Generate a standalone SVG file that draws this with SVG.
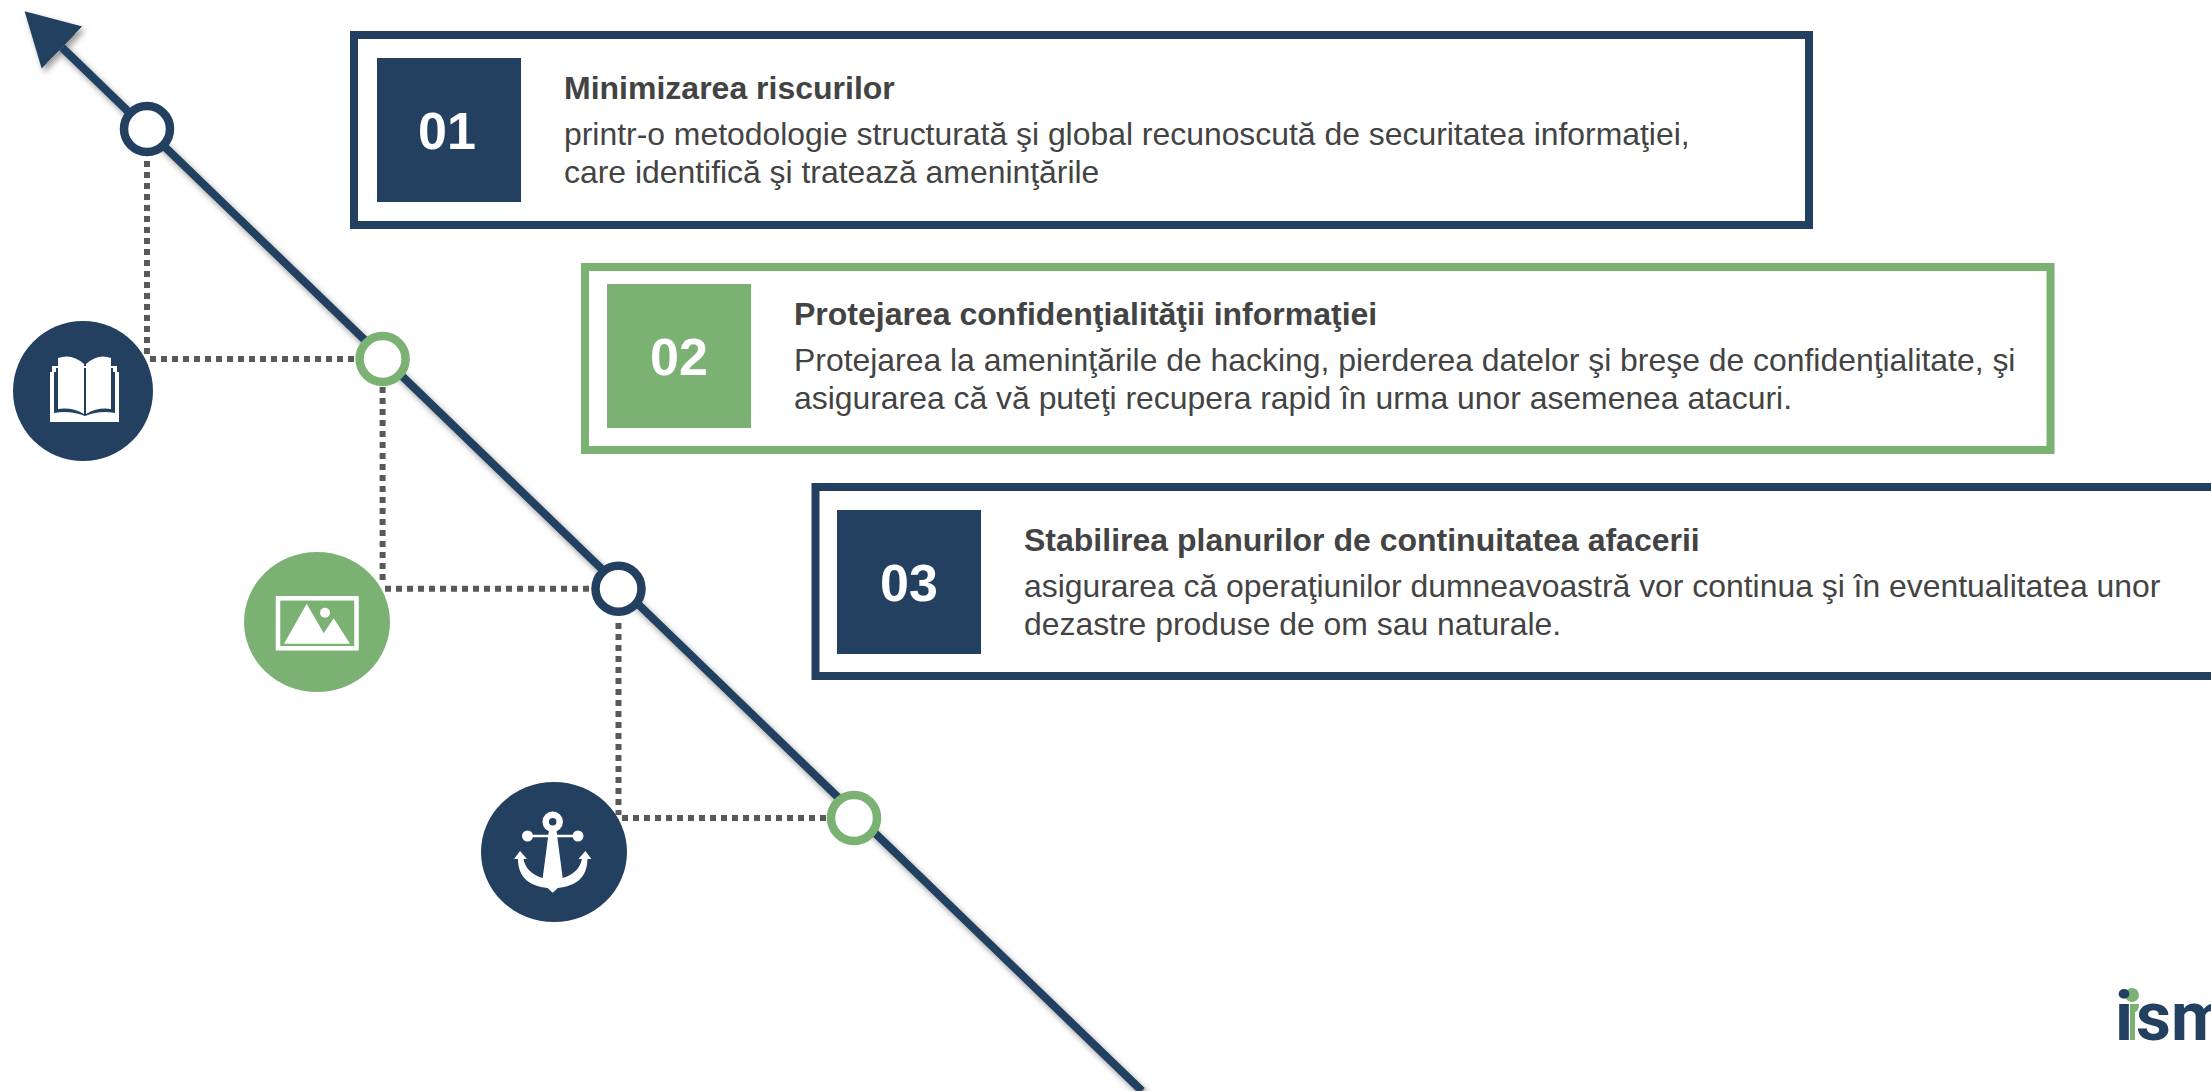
<svg xmlns="http://www.w3.org/2000/svg" width="2211" height="1091" viewBox="0 0 2211 1091">
<style>
text{font-family:"Liberation Sans",Arial,sans-serif}
.t{font-size:32px;font-weight:700;fill:#434343}
.b{font-size:31.900px;fill:#434343}
.n{font-size:52px;font-weight:700;fill:#fff;text-anchor:middle}
.navy{fill:#234061}.green{fill:#7BB274}.white{fill:#fff}
.dot{fill:none;stroke:#595959;stroke-width:6;stroke-dasharray:6 5}
.ring{fill:#fff;stroke-width:8.500}
</style>
<defs>
<filter id="sh" x="-5%" y="-5%" width="110%" height="110%"><feDropShadow dx="3" dy="4" stdDeviation="3" flood-color="#000" flood-opacity=".4"/></filter>
<marker id="ah" markerUnits="userSpaceOnUse" markerWidth="60" markerHeight="64" refX="0" refY="30" orient="auto"><path d="M0 0.700L52 30 0 59.300Z" fill="#234061"/></marker>
</defs>
<rect width="2211" height="1091" fill="#fff"/>
<g id="connectors">
<path d="M1142 1091L62 47.500" fill="none" stroke="#234061" stroke-width="8" marker-end="url(#ah)" filter="url(#sh)"/>
<path class="dot" d="M147 161V356M150 359H355"/>
<path class="dot" d="M382.600 387V585M385 588.700H590"/>
<path class="dot" d="M618.500 623V815M622 818H826"/>
</g>
<g id="marker-1"><circle class="ring" cx="147" cy="129" r="23" stroke="#234061"/></g>
<g id="marker-2"><circle class="ring" cx="382.600" cy="359" r="23" stroke="#7BB274"/></g>
<g id="marker-3"><circle class="ring" cx="618.500" cy="588.700" r="23" stroke="#234061"/></g>
<g id="marker-4"><circle class="ring" cx="854" cy="818" r="23" stroke="#7BB274"/></g>
<g id="icon-book">
<ellipse class="navy" cx="83" cy="391" rx="70" ry="70"/>
<path class="white" d="M50 372H52V366H117V372H119V422H50Z"/>
<path class="navy" d="M54 372H56V368H113V372H115V413Q100 410 85 416Q70 410 54 413Z"/>
<path class="white" d="M58 358Q72 353 84 364V414Q72 407 58 409ZM86 364Q98 353 111 358V409Q98 407 86 414Z"/>
</g>
<g id="icon-image">
<ellipse class="green" cx="317" cy="622" rx="73" ry="70"/>
<rect x="278" y="598.300" width="78.500" height="50" fill="none" stroke="#fff" stroke-width="4.500"/>
<path class="white" d="M284 643.700L306.700 603.700 323.700 633.300 333.700 618.300 350 643.700Z"/>
<circle class="white" cx="325" cy="612.700" r="5"/>
</g>
<g id="icon-anchor">
<ellipse class="navy" cx="554" cy="852" rx="73" ry="70"/>
<circle cx="552.700" cy="821.700" r="7" fill="none" stroke="#fff" stroke-width="6.500"/>
<path class="white" d="M527 834.800H578V837.200H527Z"/>
<circle class="white" cx="527.500" cy="836" r="5.500"/><circle class="white" cx="578" cy="836" r="5.500"/>
<path class="white" d="M552.700 892.700L547.500 888C530 886 518 878 518 859L514 859 520 851 527 859 523.500 859C525 868 532 875 542.700 878L549 830H556.400L562.700 878C573.400 875 580.400 868 581.900 859L578.400 859 585.400 851 591.400 859 587.400 859C587.400 878 575.400 886 557.900 888Z"/>
</g>
<g id="card-1">
<rect x="354" y="35" width="1455" height="190" fill="#fff" stroke="#234061" stroke-width="8"/>
<rect class="navy" x="377" y="58" width="144" height="144"/>
<text class="n" x="447" y="149">01</text>
<text class="t" x="564" y="99">Minimizarea riscurilor</text>
<text class="b" x="564" y="145">printr-o metodologie structurată şi global recunoscută de securitatea informaţiei,</text>
<text class="b" x="564" y="183">care identifică şi tratează ameninţările</text>
</g>
<g id="card-2">
<rect x="585" y="267" width="1465.500" height="183" fill="#fff" stroke="#7BB274" stroke-width="8"/>
<rect class="green" x="607" y="284" width="144" height="144"/>
<text class="n" x="679" y="375">02</text>
<text class="t" x="794" y="325">Protejarea confidenţialităţii informaţiei</text>
<text class="b" x="794" y="371">Protejarea la ameninţările de hacking, pierderea datelor şi breşe de confidenţialitate, şi</text>
<text class="b" x="794" y="409">asigurarea că vă puteţi recupera rapid în urma unor asemenea atacuri.</text>
</g>
<g id="card-3">
<rect x="815.500" y="487" width="1450" height="189" fill="#fff" stroke="#234061" stroke-width="8"/>
<rect class="navy" x="837" y="510" width="144" height="144"/>
<text class="n" x="909" y="601">03</text>
<text class="t" x="1024" y="551">Stabilirea planurilor de continuitatea afacerii</text>
<text class="b" x="1024" y="597">asigurarea că operaţiunilor dumneavoastră vor continua şi în eventualitatea unor</text>
<text class="b" x="1024" y="635">dezastre produse de om sau naturale.</text>
</g>
<g id="logo">
<circle class="green" cx="2132" cy="995" r="7"/>
<path class="green" d="M2130 1004H2139Q2139 1011 2135 1012V1040H2130Z"/>
<text x="2115 2136 2171" y="1040" font-size="68" font-weight="700" style="font-family:Roboto,sans-serif" fill="#234061">ism</text>
</g>
</svg>
